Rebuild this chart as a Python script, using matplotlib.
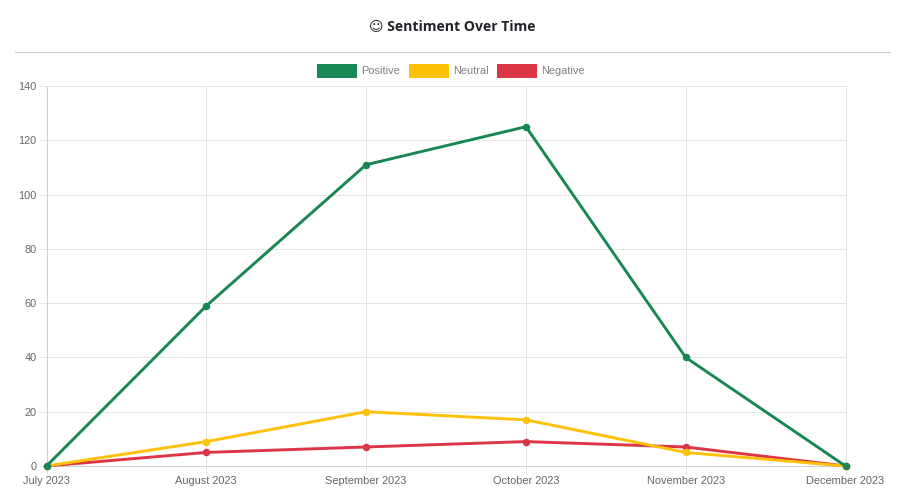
import matplotlib
matplotlib.use("Agg")
import matplotlib.pyplot as plt
from matplotlib.patches import Rectangle

months = ["July 2023", "August 2023", "September 2023", "October 2023", "November 2023", "December 2023"]
positive = [0, 59, 111, 125, 40, 0]
neutral = [0, 9, 20, 17, 5, 0]
negative = [0, 5, 7, 9, 7, 0]
y_ticks = [0, 20, 40, 60, 80, 100, 120, 140]

GREEN = "#198754"
YELLOW = "#ffc107"
RED = "#dc3545"
GRID = "#e5e5e5"
TEXT = "#666666"

W, H = 901, 503

plt.rcParams["font.family"] = ["Liberation Sans", "DejaVu Sans"]

fig = plt.figure(figsize=(W / 100, H / 100), dpi=100)
ax = fig.add_axes([46.5 / W, 1 - 466 / H, 799 / W, 380 / H])

# reverse order so the first dataset ends up on top
series = [("Negative", negative, RED), ("Neutral", neutral, YELLOW), ("Positive", positive, GREEN)]
for i, (name, values, color) in enumerate(series):
    ax.plot(range(len(months)), values, color=color, lw=2.1, marker="o", ms=5.4,
            mew=0, clip_on=False, zorder=3 + i, label=name)

ax.set_xlim(0, 5)
ax.set_ylim(0, 140)
ax.set_xticks(range(len(months)))
ax.set_xticklabels(months)
ax.set_yticks(y_ticks)
ax.grid(True, color=GRID, lw=0.72)
ax.set_axisbelow(True)
ax.tick_params(axis="both", colors=GRID, labelcolor=TEXT, labelsize=7.9, length=5.5, width=0.72, pad=1.5)
ax.tick_params(axis="x", pad=2)
for s in ax.spines.values():
    s.set_color(GRID)
    s.set_linewidth(0.72)
ax.spines["bottom"].set_color("#cfcfcf")
ax.spines["left"].set_color("#cfcfcf")

# title and rule above the chart
fig.text(452.5 / W, 1 - 26.5 / H, "\u263a Sentiment Over Time", ha="center", va="center",
         fontsize=10.1, fontweight="bold", color="#212529",
         family=["Open Sans", "DejaVu Sans"])
fig.add_artist(plt.Line2D([15 / W, 890 / W], [1 - 52 / H] * 2, color="#cccccc", lw=0.9))

# legend drawn by hand like the chart.js boxes
legend_items = [("Positive", GREEN, 316.5, 361), ("Neutral", YELLOW, 408.5, 453), ("Negative", RED, 497, 541.5)]
for name, color, box_x, text_x in legend_items:
    fig.add_artist(Rectangle((box_x / W, 1 - 78 / H), 40 / W, 14 / H, color=color,
                             transform=fig.transFigure, lw=0))
    fig.text(text_x / W, 1 - 70.5 / H, name, ha="left", va="center", fontsize=7.9, color="#808080")

fig.savefig("out.png", dpi=100, facecolor="white")
